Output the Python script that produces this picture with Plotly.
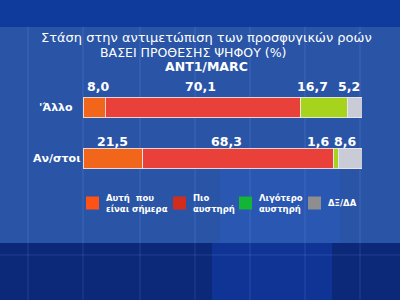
import plotly.graph_objects as go

# ---- data ----
categories = ["'Άλλο", "Αν/στοι"]
series_names = ["Αυτή  που<br>είναι σήμερα", "Πιο<br>αυστηρή", "Λιγότερο<br>αυστηρή", "ΔΞ/ΔΑ"]
values_allo = [8.0, 70.1, 16.7, 5.2]
values_anst = [21.5, 68.3, 1.6, 8.6]
value_labels_allo = ["8,0", "70,1", "16,7", "5,2"]
value_labels_anst = ["21,5", "68,3", "1,6", "8,6"]

title_lines = ["Στάση στην αντιμετώπιση των προσφυγικών ροών", "ΒΑΣΕΙ ΠΡΟΘΕΣΗΣ ΨΗΦΟΥ (%)", "ANT1/MARC"]

# ---- styles ----
bar_colors = ["#f2661c", "#e9403a", "#a6d41c", "#c9ccd6"]
legend_colors = ["#ff5214", "#d42c1c", "#14b436", "#8e8e90"]
label_xshift = [[4, -3, -12, -6], [0, -12, -18, -5]]
label_yshift = [21, 17]
FONT = "DejaVu Sans"

W, H = 400, 300
x0, x1 = 83, 362
ytop, ybot = 82, 184

fig = go.Figure()
rows = [values_allo, values_anst]
for i, name in enumerate(series_names):
    fig.add_trace(go.Bar(
        y=categories, x=[rows[0][i], rows[1][i]], orientation="h", name=name,
        marker=dict(color=bar_colors[i], line=dict(color="rgba(235,235,240,0.85)", width=1)),
        width=0.41, showlegend=False, hoverinfo="skip"))

annotations = []
labels = [value_labels_allo, value_labels_anst]
for r, (vals, labs) in enumerate(zip(rows, labels)):
    cum = 0
    for j, (v, lab) in enumerate(zip(vals, labs)):
        mid = cum + v / 2
        cum += v
        annotations.append(dict(x=mid, y=categories[r], xref="x", yref="y", text=lab,
                                showarrow=False, xshift=label_xshift[r][j], yshift=label_yshift[r],
                                font=dict(family=FONT, size=12.5, color="white", weight="bold")))
    annotations.append(dict(x=56 / W, y=categories[r], xref="paper", yref="y", text=categories[r],
                            showarrow=False, xanchor="center",
                            font=dict(family=FONT, size=11, color="white", weight="bold")))

# titles
annotations.append(dict(x=0.515, y=1 - 37.5 / H, xref="paper", yref="paper", text=title_lines[0],
                        showarrow=False, yanchor="middle", borderpad=0,
                        font=dict(family=FONT, size=13, color="white")))
annotations.append(dict(x=0.4825, y=1 - 52 / H, xref="paper", yref="paper", text=title_lines[1],
                        showarrow=False, yanchor="middle", borderpad=0,
                        font=dict(family=FONT, size=12.5, color="white")))
annotations.append(dict(x=0.5175, y=1 - 66.5 / H, xref="paper", yref="paper", text=title_lines[2],
                        showarrow=False, yanchor="middle", borderpad=0,
                        font=dict(family=FONT, size=12.5, color="white", weight="bold")))

shapes = []
# background layers
shapes.append(dict(type="rect", xref="paper", yref="paper", x0=0, x1=1, y0=1 - 27 / H, y1=1,
                   fillcolor="#0e3b9c", line=dict(width=0), layer="below"))
shapes.append(dict(type="rect", xref="paper", yref="paper", x0=0, x1=1, y0=1 - 243 / H, y1=1 - 27 / H,
                   fillcolor="#2a55a6", line=dict(width=0), layer="below"))
shapes.append(dict(type="rect", xref="paper", yref="paper", x0=0.55, x1=0.85, y0=1 - 243 / H, y1=1 - 150 / H,
                   fillcolor="rgba(40,90,190,0.45)", line=dict(width=0), layer="below"))
shapes.append(dict(type="rect", xref="paper", yref="paper", x0=0, x1=1, y0=0, y1=1 - 243 / H,
                   fillcolor="#0c2878", line=dict(width=0), layer="below"))
shapes.append(dict(type="rect", xref="paper", yref="paper", x0=0.53, x1=0.83, y0=0, y1=1 - 243 / H,
                   fillcolor="rgba(20,60,170,0.6)", line=dict(width=0), layer="below"))
for gx in [28, 83, 140, 195, 250, 305, 360]:
    shapes.append(dict(type="line", xref="paper", yref="paper", x0=gx / W, x1=gx / W, y0=0, y1=1 - 27 / H,
                       line=dict(color="rgba(150,180,255,0.18)", width=1), layer="below"))
shapes.append(dict(type="line", xref="paper", yref="paper", x0=0, x1=1, y0=1 - 255 / H, y1=1 - 255 / H,
                   line=dict(color="rgba(150,180,255,0.18)", width=1), layer="below"))

# legend (manual)
leg_x = [86, 173, 239, 308]
leg_y = 203
for i, name in enumerate(series_names):
    shapes.append(dict(type="rect", xref="paper", yref="paper",
                       x0=leg_x[i] / W, x1=(leg_x[i] + 13) / W,
                       y0=1 - (leg_y + 6.5) / H, y1=1 - (leg_y - 6.5) / H,
                       fillcolor=legend_colors[i], line=dict(width=0)))
    annotations.append(dict(x=(leg_x[i] + 18) / W, y=1 - leg_y / H, xref="paper", yref="paper",
                            text=name, showarrow=False, xanchor="left", yanchor="middle", align="left",
                            font=dict(family=FONT, size=8.5, color="white", weight="bold")))

fig.update_layout(
    width=W, height=H, margin=dict(l=0, r=0, t=0, b=0),
    paper_bgcolor="#1a4aa2", plot_bgcolor="rgba(0,0,0,0)",
    barmode="stack", bargap=0.2,
    xaxis=dict(domain=[x0 / W, x1 / W], range=[0, 100], visible=False, fixedrange=True),
    yaxis=dict(domain=[1 - ybot / H, 1 - ytop / H], range=[1.5, -0.5], visible=False,
               type="category", categoryorder="array", categoryarray=categories),
    annotations=annotations, shapes=shapes, showlegend=False,
)

fig.write_html("out.html")
